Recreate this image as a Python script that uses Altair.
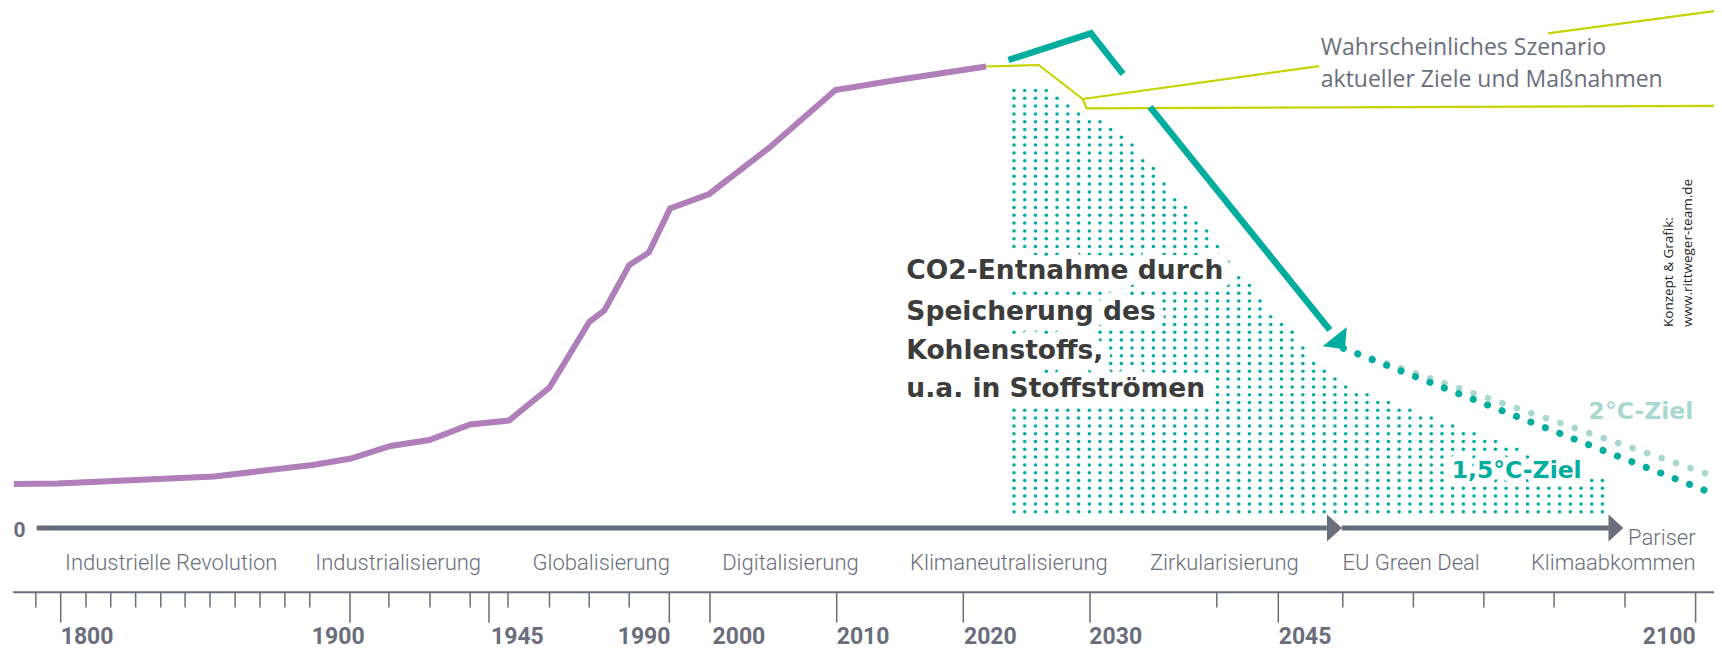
import altair as alt
import pandas as pd
import numpy as np

# ---------------- data (years / emission index, 0 = timeline) ----------------
AXIS_YEARS = [1800, 1900, 1945, 1990, 2000, 2010, 2020, 2030, 2045, 2100]
MINOR_TICKS = [1791.4, 1808.75, 1817.3, 1825.9, 1834.6, 1843.0, 1851.6, 1860.3, 1868.9,
               1877.5, 1886.1, 1912.6, 1925.9, 1938.9, 1949.75, 1960.1, 1970.0, 1980.0,
               2040.1, 2053.5, 2062.8, 2072.1, 2081.35, 2090.7]

HIST_YEAR = [1783.8, 1799.0, 1853.0, 1887.1, 1900.3, 1913.1, 1925.7, 1938.9, 1950.0, 1960.1,
             1970.1, 1973.8, 1980.0, 1984.9, 1990.2, 1999.8, 2004.7, 2009.9, 2014.5, 2021.8]
HIST_VAL = [8.8, 8.9, 10.3, 12.6, 13.9, 16.4, 17.6, 20.7, 21.5, 28.1,
            41.3, 43.5, 52.6, 55.1, 63.9, 66.8, 76.1, 87.6, 89.5, 92.3]

# likely scenario (lime), several branches
LIKELY_SEG = ["main", "main", "main", "down", "down", "down", "up1", "up1", "up2", "up2"]
LIKELY_YEAR = [2021.8, 2025.95, 2029.42, 2029.42, 2029.73, 2103.5, 2029.42, 2050.36, 2080.55, 2103.5]
LIKELY_VAL = [92.3, 92.6, 85.8, 85.8, 83.94, 84.44, 85.8, 92.38, 98.94, 103.6]

# 1.5 degree path (solid teal)
PATH15_SEG = ["a", "a", "a", "b", "b"]
PATH15_YEAR = [2023.56, 2030.07, 2032.63, 2034.78, 2051.8]
PATH15_VAL = [93.6, 98.94, 90.8, 84.2, 39.6]
ARROW15_YEAR = [2052.5]
ARROW15_VAL = [38.16]

# dotted continuations
DOT15_YEAR = [2053.57, 2103.5]
DOT15_VAL = [35.94, 6.16]
DOT20_YEAR = [2053.57, 2103.5]
DOT20_VAL = [35.94, 9.8]

# carbon removal area (top boundary)
REMOVAL_YEAR = [2024.0, 2025.8, 2027.5, 2029.2, 2031.7, 2032.5, 2039.4, 2044.5, 2051.2, 2053.9, 2087.6]
REMOVAL_TOP = [88.0, 88.3, 86.3, 83.3, 80.4, 79.2, 59.0, 43.0, 31.2, 28.2, 9.6]

# timeline arrows
TL_START = [1791.7, 2053.35]
TL_END = [2051.4, 2088.6]
TL_HEAD = [2052.4, 2089.5]

PERIODS = ["Industrielle Revolution", "Industrialisierung", "Globalisierung", "Digitalisierung",
           "Klimaneutralisierung", "Zirkularisierung", "EU Green Deal"]
PERIOD_YEAR = [1838.2, 1915.6, 1973.0, 2006.35, 2023.6, 2040.7, 2062.5]

YEAR_LABELS_L = ["1800", "1900", "1945", "2000", "2010", "2020", "2030", "2045"]
YEAR_LABELS_L_X = [1800.0, 1886.8, 1945.5, 2000.2, 2010.0, 2020.05, 2029.95, 2045.05]
YEAR_LABELS_R = ["1990", "2100"]
YEAR_LABELS_R_X = [1990.3, 2100.0]

CO2_LINES = ["CO2-Entnahme durch", "Speicherung des", "Kohlenstoffs,", "u.a. in Stoffströmen"]
CO2_BASE = [49.74, 41.6, 33.74, 26.14]

LIKELY_LINES = ["Wahrscheinliches Szenario", "aktueller Ziele und Maßnahmen"]
LIKELY_BASE = [94.6, 88.14]

CREDIT_LINES = ["Konzept & Grafik:", "www.rittweger-team.de"]
CREDIT_X = [2097.0, 2099.5]

# ---------------- styles ----------------
GRAY = "#6a6e7c"
PURPLE = "#b07fb9"
TEAL = "#00ad9e"
LTEAL = "#a8d8d0"
LIME = "#c6d300"
DARK = "#3c3c3c"

AXIS_RANGE = [52.7, 342, 481, 661.3, 702, 828.7, 955.3, 1082, 1270.3, 1687.6]
xs = alt.Scale(domain=AXIS_YEARS, range=AXIS_RANGE, nice=False, zero=False)
ys = alt.Scale(domain=[0, 100], range=[520, 20], nice=False, zero=False)


def X(f="year"):
    return alt.X(f"{f}:Q", scale=xs, axis=None)


def Y(f="value"):
    return alt.Y(f"{f}:Q", scale=ys, axis=None)


layers = []

# dot texture for the removal area
cols = np.concatenate([np.arange(2024.0, 2045.0, 0.85), np.arange(2045.42, 2088.0, 1.41)])
rows = np.arange(3.26, 100, 1.56)
pts = [(c, r) for c in cols for r in rows if r <= np.interp(c, REMOVAL_YEAR, REMOVAL_TOP) + 0.3]
dots = pd.DataFrame(pts, columns=["year", "value"])
layers.append(alt.Chart(dots).mark_circle(size=12.5, color=TEAL, opacity=1).encode(x=X(), y=Y()))

# white knock-out behind text inside the dot area
co2 = pd.DataFrame({"text": CO2_LINES, "year": [2015.5] * 4, "value": CO2_BASE})
layers.append(alt.Chart(co2).mark_text(font="DejaVu Sans", fontWeight="bold", fontSize=26.5,
                                       align="left", baseline="alphabetic", color="white",
                                       stroke="white", strokeWidth=18, strokeJoin="round")
              .encode(x=X(), y=Y(), text="text:N"))
z15 = pd.DataFrame({"text": ["1,5°C-Ziel"], "year": [2067.85], "value": [9.94]})
layers.append(alt.Chart(z15).mark_text(font="DejaVu Sans", fontWeight="bold", fontSize=23.5,
                                       align="left", baseline="alphabetic", color="white",
                                       stroke="white", strokeWidth=12, strokeJoin="round")
              .encode(x=X(), y=Y(), text="text:N"))

# historical emissions
hist = pd.DataFrame({"year": HIST_YEAR, "value": HIST_VAL})
layers.append(alt.Chart(hist).mark_line(color=PURPLE, strokeWidth=6).encode(x=X(), y=Y()))

# likely scenario
lik = pd.DataFrame({"seg": LIKELY_SEG, "year": LIKELY_YEAR, "value": LIKELY_VAL})
layers.append(alt.Chart(lik).mark_line(color=LIME, strokeWidth=2.2).encode(x=X(), y=Y(), detail="seg:N"))

# 1.5 path
p15 = pd.DataFrame({"seg": PATH15_SEG, "year": PATH15_YEAR, "value": PATH15_VAL})
layers.append(alt.Chart(p15).mark_line(color=TEAL, strokeWidth=6.5).encode(x=X(), y=Y(), detail="seg:N"))
a15 = pd.DataFrame({"year": ARROW15_YEAR, "value": ARROW15_VAL})
layers.append(alt.Chart(a15).mark_point(shape="M0,-1L1,0.05L-1,0.05Z", size=961, angle=141.2,
                                        filled=True, color=TEAL, opacity=1, strokeWidth=0)
              .encode(x=X(), y=Y()))

# dotted continuations
d20 = pd.DataFrame({"year": DOT20_YEAR, "value": DOT20_VAL})
layers.append(alt.Chart(d20).mark_line(color=LTEAL, strokeWidth=6.5, strokeCap="round",
                                       strokeDash=[0.1, 15.2]).encode(x=X(), y=Y()))
d15 = pd.DataFrame({"year": DOT15_YEAR, "value": DOT15_VAL})
layers.append(alt.Chart(d15).mark_line(color=TEAL, strokeWidth=7, strokeCap="round",
                                       strokeDash=[0.1, 15.4]).encode(x=X(), y=Y()))

# timeline arrows
tl = pd.DataFrame({"year": TL_START, "year2": TL_END, "value": [0, 0]})
layers.append(alt.Chart(tl).mark_rule(color=GRAY, strokeWidth=5).encode(x=X(), x2=alt.X2("year2:Q"), y=Y()))
th = pd.DataFrame({"year": TL_HEAD, "value": [0, 0]})
layers.append(alt.Chart(th).mark_point(shape="M-0.55,-1L0.55,0L-0.55,1Z", size=729, filled=True,
                                       color=GRAY, opacity=1, strokeWidth=0).encode(x=X(), y=Y()))

# bottom axis
ax = pd.DataFrame({"year": [1783.6], "year2": [2103.5], "value": [-12.86]})
layers.append(alt.Chart(ax).mark_rule(color=GRAY, strokeWidth=2).encode(x=X(), x2=alt.X2("year2:Q"), y=Y()))
mt = pd.DataFrame({"year": MINOR_TICKS, "value": -12.86, "value2": -15.9})
layers.append(alt.Chart(mt).mark_rule(color=GRAY, strokeWidth=1.5).encode(x=X(), y=Y(), y2=alt.Y2("value2:Q")))
Mt = pd.DataFrame({"year": AXIS_YEARS, "value": -12.86, "value2": -18.94})
layers.append(alt.Chart(Mt).mark_rule(color=GRAY, strokeWidth=1.5).encode(x=X(), y=Y(), y2=alt.Y2("value2:Q")))

# year labels (kept fully inside the drawing area)
yl = pd.DataFrame({"text": YEAR_LABELS_L, "year": YEAR_LABELS_L_X, "value": -23.2})
layers.append(alt.Chart(yl).mark_text(font="Roboto", fontWeight="bold", fontSize=23, align="left",
                                      baseline="alphabetic", color=GRAY).encode(x=X(), y=Y(), text="text:N"))
yr = pd.DataFrame({"text": YEAR_LABELS_R, "year": YEAR_LABELS_R_X, "value": -23.2})
layers.append(alt.Chart(yr).mark_text(font="Roboto", fontWeight="bold", fontSize=23, align="right",
                                      baseline="alphabetic", color=GRAY).encode(x=X(), y=Y(), text="text:N"))

# zero label
zl = pd.DataFrame({"text": ["0"], "year": [1785.8], "value": [-1.74]})
layers.append(alt.Chart(zl).mark_text(font="Roboto", fontWeight="bold", fontSize=21, align="center",
                                      baseline="alphabetic", color=GRAY).encode(x=X(), y=Y(), text="text:N"))

# period labels
pl = pd.DataFrame({"text": PERIODS, "year": PERIOD_YEAR, "value": -8.4})
layers.append(alt.Chart(pl).mark_text(font="Roboto", fontWeight=300, fontSize=22, align="center",
                                      baseline="alphabetic", color=GRAY).encode(x=X(), y=Y(), text="text:N"))
pr = pd.DataFrame({"text": ["Pariser", "Klimaabkommen"], "year": [2100, 2100], "value": [-3.4, -8.4]})
layers.append(alt.Chart(pr).mark_text(font="Roboto", fontWeight=300, fontSize=22, align="right",
                                      baseline="alphabetic", color=GRAY).encode(x=X(), y=Y(), text="text:N"))

# CO2 text
layers.append(alt.Chart(co2).mark_text(font="DejaVu Sans", fontWeight="bold", fontSize=26.5,
                                       align="left", baseline="alphabetic", color=DARK)
              .encode(x=X(), y=Y(), text="text:N"))

# target labels
layers.append(alt.Chart(z15).mark_text(font="DejaVu Sans", fontWeight="bold", fontSize=23.5,
                                       align="left", baseline="alphabetic", color=TEAL)
              .encode(x=X(), y=Y(), text="text:N"))
z20 = pd.DataFrame({"text": ["2°C-Ziel"], "year": [2099.7], "value": [21.74]})
layers.append(alt.Chart(z20).mark_text(font="DejaVu Sans", fontWeight="bold", fontSize=23.5,
                                       align="right", baseline="alphabetic", color=LTEAL)
              .encode(x=X(), y=Y(), text="text:N"))

# likely scenario label
ll = pd.DataFrame({"text": LIKELY_LINES, "year": [2050.6, 2050.6], "value": LIKELY_BASE})
layers.append(alt.Chart(ll).mark_text(font="Open Sans", fontSize=23, align="left",
                                      baseline="alphabetic", color=GRAY)
              .encode(x=X(), y=Y(), text="text:N"))

# credit
cr = pd.DataFrame({"text": CREDIT_LINES, "year": CREDIT_X, "value": [40.2, 40.2]})
layers.append(alt.Chart(cr).mark_text(font="Open Sans", fontSize=13.5, align="left", angle=270,
                                      baseline="alphabetic", color="#222222")
              .encode(x=X(), y=Y(), text="text:N"))

chart = alt.layer(*layers).properties(
    width=1706, height=642, padding=0,
    autosize=alt.AutoSizeParams(type="none"),
).configure_view(stroke=None)

chart.save("out.html", embed_options={"renderer": "svg", "actions": False})
